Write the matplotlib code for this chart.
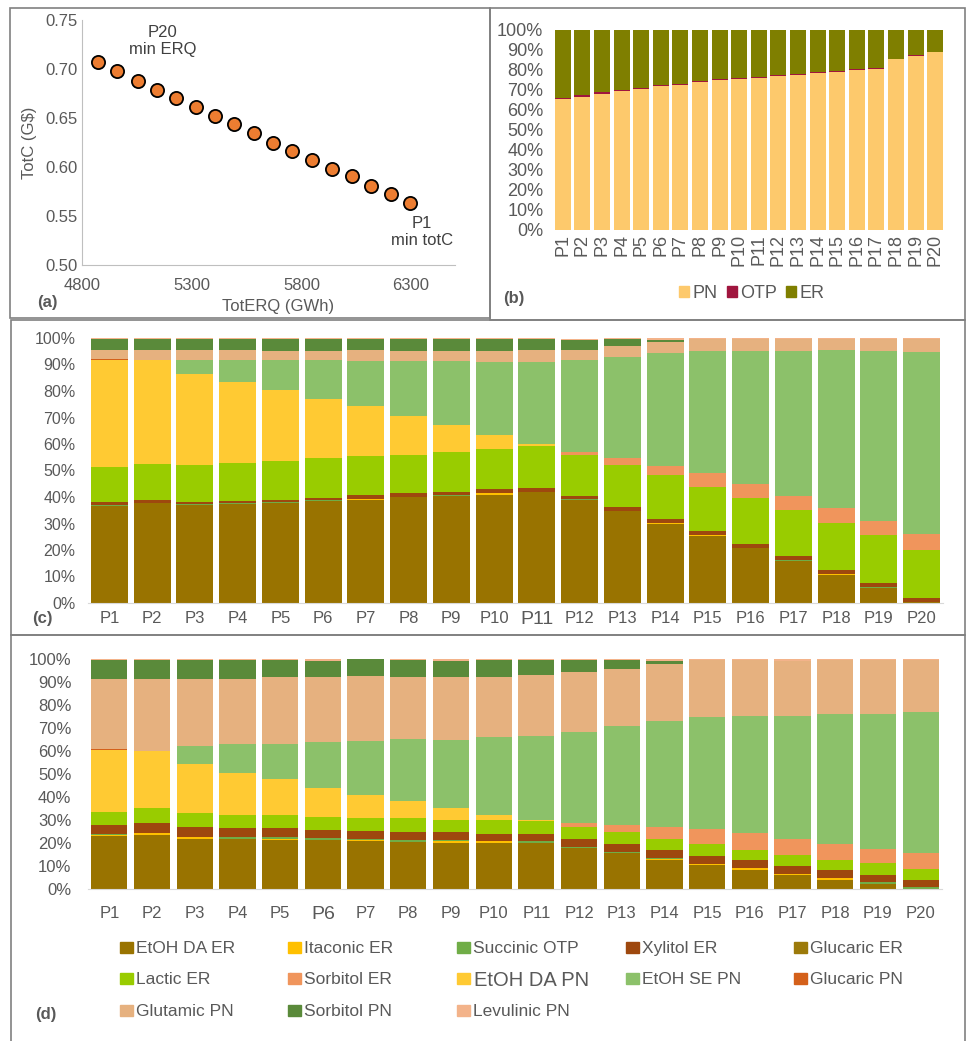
import numpy as np
import matplotlib
matplotlib.use("Agg")
import matplotlib.pyplot as plt
from matplotlib.patches import Rectangle, Patch

plt.rcParams['font.family'] = ['Liberation Sans', 'DejaVu Sans']
GREY = '#595959'

W, H = 966, 1041

# ---------------- data ----------------
points = ['P%d' % i for i in range(1, 21)]

# (a) Pareto front
tot_erq = [4871, 4958, 5053, 5142, 5230, 5321, 5408, 5495, 5583, 5670,
           5758, 5847, 5939, 6029, 6117, 6208, 6295]
tot_c = [0.707, 0.698, 0.688, 0.679, 0.670, 0.661, 0.652, 0.644, 0.635, 0.625,
         0.616, 0.607, 0.598, 0.591, 0.581, 0.572, 0.563]

# (b) share by product type (%)
b_pn = [65.5, 66.7, 68.2, 69.7, 70.5, 71.8, 72.7, 74.0, 74.8, 75.5,
        76.2, 76.8, 77.7, 78.5, 79.2, 80.0, 80.7, 85.5, 87.2, 89.2]
b_otp = [0.6, 0.6, 0.6, 0.5, 0.5, 0.5, 0.5, 0.5, 0.5, 0.5,
         0.5, 0.5, 0.5, 0.5, 0.5, 0.5, 0.5, 0.0, 0.5, 0.0]
b_er = [33.9, 32.7, 31.2, 29.8, 29.0, 27.7, 26.8, 25.5, 24.7, 24.0,
        23.3, 22.7, 21.8, 21.0, 20.3, 19.5, 18.8, 14.5, 12.3, 10.8]

series_names = ['EtOH DA ER', 'Itaconic ER', 'Succinic OTP', 'Xylitol ER', 'Glucaric ER',
                'Lactic ER', 'Sorbitol ER', 'EtOH DA PN', 'EtOH SE PN', 'Glucaric PN',
                'Glutamic PN', 'Sorbitol PN', 'Levulinic PN']
series_colors = ['#997300', '#FFC000', '#70AD47', '#9E480E', '#9C7A0A',
                 '#99CC00', '#F0955C', '#FFCA33', '#8CC16A', '#D4601A',
                 '#E6B17F', '#5A8A3A', '#F3B38A']

# (c) shares (%)
c_etoh_da_er = [36.7, 37.6, 36.9, 37.3, 37.8, 38.5, 38.8, 40.0, 40.5, 40.9,
                42.0, 38.8, 34.7, 29.8, 25.2, 20.8, 16.0, 10.5, 5.7, 0.2]
c_itaconic_er = [0, 0, 0, 0, 0, 0, 0.5, 0, 0, 0.6, 0, 0, 0, 0.5, 0.5, 0, 0, 0.5, 0, 0]
c_succinic_otp = [0.4, 0, 0.4, 0.3, 0.3, 0.3, 0, 0, 0.3, 0, 0, 0.3, 0, 0, 0, 0, 0.3, 0, 0.3, 0.3]
c_xylitol_er = [0.9, 1.1, 0.9, 0.9, 0.8, 0.9, 1.4, 1.4, 0.9, 1.4,
                1.3, 1.1, 1.4, 1.4, 1.5, 1.4, 1.4, 1.4, 1.4, 1.5]
c_glucaric_er = [0] * 20
c_lactic_er = [13.2, 13.9, 14.0, 14.5, 14.6, 14.9, 14.8, 14.6, 15.3, 15.1,
               15.8, 15.6, 16.0, 16.5, 16.6, 17.3, 17.3, 17.7, 18.3, 18.0]
c_sorbitol_er = [0, 0, 0, 0, 0, 0, 0, 0, 0, 0,
                 0, 1.1, 2.6, 3.5, 5.2, 5.3, 5.4, 5.9, 5.4, 6.1]
c_etoh_da_pn = [40.6, 39.2, 34.2, 30.4, 27.0, 22.4, 18.7, 14.6, 10.2, 5.4,
                1.0, 0, 0, 0, 0, 0, 0, 0, 0, 0]
c_etoh_se_pn = [0, 0, 5.4, 8.3, 11.2, 14.8, 17.2, 20.7, 24.1, 27.4,
                30.8, 34.7, 38.0, 42.5, 46.2, 50.4, 54.7, 59.3, 64.1, 68.5]
c_glucaric_pn = [0.4] + [0] * 19
c_glutamic_pn = [3.4, 3.8, 3.8, 3.8, 3.4, 3.4, 3.9, 3.9, 3.9, 4.4,
                 4.4, 4.0, 4.4, 4.4, 4.4, 4.4, 4.4, 4.4, 4.4, 4.9]
c_sorbitol_pn = [4.0, 4.0, 4.0, 4.0, 4.4, 4.4, 4.4, 4.4, 4.4, 4.4,
                 4.4, 3.8, 2.5, 0.8, 0, 0, 0, 0, 0, 0]
c_levulinic_pn = [0.4, 0.4, 0.4, 0.4, 0.4, 0.4, 0.3, 0.4, 0.4, 0.4,
                  0.4, 0.4, 0.4, 0.6, 0.4, 0.4, 0.4, 0.4, 0.4, 0.4]

# (d) shares (%)
d_etoh_da_er = [22.9, 23.5, 21.9, 21.9, 21.3, 21.4, 20.7, 20.6, 20.0, 20.0,
                20.0, 17.7, 15.5, 12.5, 10.3, 8.3, 5.9, 3.8, 2.2, 0]
d_itaconic_er = [0.7, 0.9, 0.7, 0, 0.6, 0, 0.6, 0, 0.7, 0.7,
                 0, 0, 0, 0.7, 0.7, 0.7, 0.7, 0.9, 0, 0]
d_succinic_otp = [0.4, 0, 0, 0.9, 0.6, 0.6, 0.4, 0.7, 0.4, 0,
                  0.7, 0.7, 0.7, 0.4, 0, 0, 0, 0, 0.9, 0.9]
d_xylitol_er = [3.8, 4.2, 4.3, 3.6, 3.9, 3.6, 3.6, 3.3, 3.6, 3.2,
                3.3, 3.5, 3.5, 3.2, 3.2, 3.5, 3.5, 3.5, 2.8, 2.8]
d_glucaric_er = [0] * 20
d_lactic_er = [5.8, 6.5, 6.1, 5.9, 5.9, 5.9, 5.4, 6.1, 5.2, 6.1,
               5.4, 5.2, 5.2, 5.1, 5.5, 4.3, 4.5, 4.3, 5.2, 5.2]
d_sorbitol_er = [0, 0, 0, 0, 0, 0, 0, 0, 0, 0,
                 0, 1.6, 2.9, 5.2, 6.5, 7.4, 7.2, 7.2, 6.5, 6.7]
d_etoh_da_pn = [26.7, 25.1, 21.2, 18.3, 15.4, 12.5, 10.3, 7.4, 5.2, 2.2,
                0.7, 0, 0, 0, 0, 0, 0, 0, 0, 0]
d_etoh_se_pn = [0, 0, 8.1, 12.3, 15.2, 19.7, 23.3, 27.0, 29.9, 33.8,
                36.5, 39.4, 43.2, 46.1, 48.4, 51.2, 53.5, 56.5, 58.7, 61.4]
d_glucaric_pn = [0.6] + [0] * 19
d_glutamic_pn = [30.6, 31.3, 29.1, 28.6, 29.3, 28.4, 28.5, 27.1, 27.1, 26.2,
                 26.4, 26.2, 24.8, 24.8, 24.8, 24.0, 24.0, 23.2, 23.2, 22.4]
d_sorbitol_pn = [8.0, 8.0, 8.0, 8.0, 7.2, 7.2, 7.2, 7.2, 7.2, 7.2,
                 6.4, 5.1, 3.6, 1.0, 0, 0, 0, 0, 0, 0]
d_levulinic_pn = [0.6, 0.6, 0.6, 0.6, 0.6, 0.6, 0, 0.6, 0.6, 0.6,
                  0.6, 0.6, 0.6, 1.0, 0.6, 0.6, 0.6, 0.6, 0.6, 0.6]

c_series = [c_etoh_da_er, c_itaconic_er, c_succinic_otp, c_xylitol_er, c_glucaric_er,
            c_lactic_er, c_sorbitol_er, c_etoh_da_pn, c_etoh_se_pn, c_glucaric_pn,
            c_glutamic_pn, c_sorbitol_pn, c_levulinic_pn]
d_series = [d_etoh_da_er, d_itaconic_er, d_succinic_otp, d_xylitol_er, d_glucaric_er,
            d_lactic_er, d_sorbitol_er, d_etoh_da_pn, d_etoh_se_pn, d_glucaric_pn,
            d_glutamic_pn, d_sorbitol_pn, d_levulinic_pn]


def px_axes(fig, left, top, right, bottom):
    return fig.add_axes([left / W, 1 - bottom / H, (right - left) / W, (bottom - top) / H])


def frame(fig, x0, y0, x1, y1):
    fig.add_artist(Rectangle((x0 / W, 1 - y1 / H), (x1 - x0) / W, (y1 - y0) / H,
                             transform=fig.transFigure, fill=False,
                             edgecolor='#808080', linewidth=1.2))


def stacked(ax, series, colors, width):
    x = np.arange(len(points))
    bottom = np.zeros(len(points))
    for vals, col in zip(series, colors):
        vals = np.array(vals, dtype=float)
        ax.bar(x, vals, width, bottom=bottom, color=col, linewidth=0)
        bottom += vals
    ax.set_xlim(-0.5, len(points) - 0.5)
    ax.set_ylim(0, 100)
    ax.set_yticks(range(0, 101, 10))
    ax.set_yticklabels(['%d%%' % v for v in range(0, 101, 10)])
    for s in ['top', 'right', 'left']:
        ax.spines[s].set_visible(False)


fig = plt.figure(figsize=(W / 100, H / 100), dpi=100)

frame(fig, 10, 8, 490, 318)
frame(fig, 490, 8, 965, 320)
frame(fig, 11, 320, 965, 635)
frame(fig, 11, 635, 965, 1045)

# ---------------- (a) ----------------
ax = px_axes(fig, 82, 20, 455, 265)
ax.scatter(tot_erq, tot_c, s=90, c='#ED7D31', edgecolors='black', linewidths=1.3, zorder=3)
ax.set_xlim(4800, 6500)
ax.set_ylim(0.5, 0.75)
ax.set_xticks([4800, 5300, 5800, 6300])
ax.set_yticks(np.arange(0.50, 0.76, 0.05))
ax.set_yticklabels(['%.2f' % v for v in np.arange(0.50, 0.76, 0.05)])
for s in ['top', 'right']:
    ax.spines[s].set_visible(False)
for s in ['left', 'bottom']:
    ax.spines[s].set_color('#BFBFBF')
ax.tick_params(length=0, labelsize=12, colors=GREY)
ax.tick_params(axis='x', pad=9)
ax.tick_params(axis='y', pad=3)
ax.set_xlabel('TotERQ (GWh)', fontsize=12, color=GREY)
ax.xaxis.set_label_coords(0.525, -0.14)
ax.set_ylabel('TotC (G$)', fontsize=12, color=GREY)
ax.yaxis.set_label_coords(-0.12, 0.5)
ax.text(5168, 0.7285, 'P20\nmin ERQ', ha='center', va='center', fontsize=12,
        color='#404040', linespacing=1.15)
ax.text(6350, 0.5335, 'P1\nmin totC', ha='center', va='center', fontsize=12,
        color='#404040', linespacing=1.15)
fig.text(47 / W, 1 - 302 / H, '(a)', fontsize=12, fontweight='bold', color=GREY,
         ha='center', va='center')

# ---------------- (b) ----------------
ax = px_axes(fig, 553, 30, 945, 230)
b_colors = ['#FDC96C', '#A0153E', '#7F7F00']
stacked(ax, [b_pn, b_otp, b_er], b_colors, 0.82)
ax.spines['bottom'].set_visible(False)
ax.set_xticks(np.arange(20))
ax.set_xticklabels(points, rotation=90)
ax.tick_params(length=0, labelsize=13, colors=GREY)
ax.tick_params(axis='y', pad=7)
ax.tick_params(axis='x', pad=3)
hb = [Patch(color=c) for c in b_colors]
fig.legend(hb, ['PN', 'OTP', 'ER'], loc='center', bbox_to_anchor=(752 / W, 1 - 293 / H),
           ncol=3, frameon=False, fontsize=13, handlelength=0.55, handleheight=0.55,
           handletextpad=0.2, columnspacing=0.5, labelcolor=GREY)
fig.text(514 / W, 1 - 298 / H, '(b)', fontsize=12, fontweight='bold', color=GREY,
         ha='center', va='center')

# ---------------- (c) ----------------
ax = px_axes(fig, 88, 338, 943, 603)
stacked(ax, c_series, series_colors, 0.86)
ax.spines['bottom'].set_color('#D9D9D9')
ax.set_xticks(np.arange(20))
ax.set_xticklabels(points)
ax.tick_params(length=0, colors=GREY)
ax.tick_params(axis='y', labelsize=11.5, pad=9)
ax.tick_params(axis='x', labelsize=12, pad=6)
ax.get_xticklabels()[10].set_fontsize(14)
fig.text(42 / W, 1 - 618 / H, '(c)', fontsize=12, fontweight='bold', color=GREY,
         ha='center', va='center')

# ---------------- (d) ----------------
ax = px_axes(fig, 88, 659, 942, 889)
stacked(ax, d_series, series_colors, 0.85)
ax.spines['bottom'].set_color('#D9D9D9')
ax.set_xticks(np.arange(20))
ax.set_xticklabels(points)
ax.tick_params(length=0, colors=GREY)
ax.tick_params(axis='y', labelsize=12, pad=12)
ax.tick_params(axis='x', labelsize=12, pad=12)
ax.get_xticklabels()[5].set_fontsize(14)
fig.text(46 / W, 1 - 1015 / H, '(d)', fontsize=12, fontweight='bold', color=GREY,
         ha='center', va='center')

# legend of (d): 5 columns x 3 rows, one entry each so rows stay aligned
col_x = [120, 288, 457, 626, 794]
row_y = [952, 983, 1015]
for i, (name, col) in enumerate(zip(series_names, series_colors)):
    r, c = divmod(i, 5)
    fs = 14.5 if name == 'EtOH DA PN' else 12.5
    top = row_y[r] - fs * 100 / 72 * 0.62
    fig.legend([Patch(color=col)], [name], loc='upper left',
               bbox_to_anchor=(col_x[c] / W, 1 - top / H),
               frameon=False, fontsize=fs, handlelength=0.75 * 12.5 / fs,
               handleheight=0.6 * 12.5 / fs, handletextpad=0.2, borderpad=0,
               borderaxespad=0, labelcolor=GREY)

fig.savefig('out.png', dpi=100)
